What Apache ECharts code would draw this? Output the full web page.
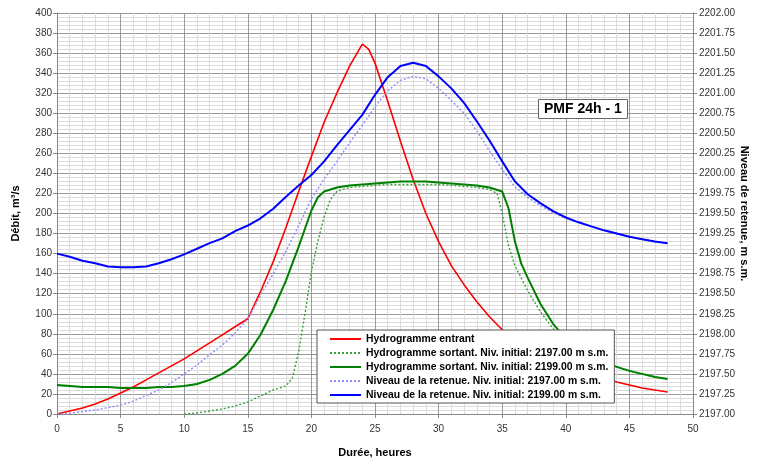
<!DOCTYPE html>
<html>
<head>
<meta charset="utf-8">
<script src="https://cdn.jsdelivr.net/npm/echarts@6/dist/echarts.min.js"></script>
<style>
  html, body { margin: 0; padding: 0; background: #fff; }
  #chart { width: 759px; height: 463px; }
</style>
</head>
<body>
<div id="chart"></div>
<script>
// Durée (h) / débit (m3/s)
const hydroEntrant = [[0,0],[1,3],[2,6],[3,10],[4,15],[5,21],[6,27],[7,34],[8,41],[9,48],[10,55],[11,63],[12,71],[13,79],[14,87],[15,95],[16,122],[17,152],[18,186],[19,222],[20,257],[21,291],[22,320],[23,347],[24,369],[24.5,364],[25,350],[26,312],[27,272],[28,234],[29,200],[30,172],[31,148],[32,129],[33,112],[34,97],[35,84],[36,75],[37,67],[38,60],[39,54],[40,49],[41,44],[42,40],[43,36],[44,32],[45,29],[46,26],[47,24],[48,22]];

const sortant2197 = [[10,0],[11,1],[12,3],[13,5],[14,8],[15,12],[16,18],[17,24],[18,28],[18.5,36],[19,62],[19.5,100],[20,142],[20.5,172],[21,197],[21.5,214],[22,222],[23,226],[24,227],[25,228],[26,229],[27,229],[28,229],[29,229],[30,229],[31,228],[32,227],[33,226],[34,224],[34.6,220],[35,200],[35.5,168],[36,148],[37,123],[38,102],[39,85],[40,72],[41,63],[42,57],[43,51],[44,47],[45,43],[46,40],[47,37],[48,35]];

const sortant2199 = [[0,29],[1,28],[2,27],[3,27],[4,27],[5,26],[6,26],[7,26],[8,27],[9,27],[10,28],[11,30],[12,34],[13,40],[14,48],[15,60],[16,79],[17,104],[18,133],[19,167],[19.5,185],[20,203],[20.5,216],[21,222],[22,226],[23,228],[24,229],[25,230],[26,231],[27,232],[28,232],[29,232],[30,231],[31,230],[32,229],[33,228],[34,226],[35,222],[35.5,205],[36,172],[36.5,150],[37,136],[38,110],[39,90],[40,75],[41,65],[42,58],[43,52],[44,47],[45,43],[46,40],[47,37],[48,35]];

// niveau de retenue (m s.m.), axe de droite
const niveau2197 = [[0,2197.00],[1,2197.01],[2,2197.03],[3,2197.05],[4,2197.08],[5,2197.11],[6,2197.16],[7,2197.23],[8,2197.30],[9,2197.39],[10,2197.50],[11,2197.61],[12,2197.74],[13,2197.86],[14,2198.01],[15,2198.19],[16,2198.48],[17,2198.75],[18,2199.03],[19,2199.35],[20,2199.68],[21,2199.93],[22,2200.15],[23,2200.38],[24,2200.60],[25,2200.83],[26,2201.03],[27,2201.16],[28,2201.21],[29,2201.18],[30,2201.06],[31,2200.91],[32,2200.75],[33,2200.53],[34,2200.28],[35,2200.05],[36,2199.83],[37,2199.70],[38,2199.60],[39,2199.51],[40,2199.44],[41,2199.39],[42,2199.34],[43,2199.29],[44,2199.25],[45,2199.21],[46,2199.18],[47,2199.15],[48,2199.13]];

const niveau2199 = [[0,2199.00],[1,2198.96],[2,2198.91],[3,2198.88],[4,2198.84],[5,2198.83],[6,2198.83],[7,2198.84],[8,2198.88],[9,2198.93],[10,2198.99],[11,2199.06],[12,2199.13],[13,2199.19],[14,2199.28],[15,2199.35],[16,2199.44],[17,2199.56],[18,2199.71],[19,2199.85],[20,2199.98],[21,2200.15],[22,2200.35],[23,2200.54],[24,2200.73],[25,2200.98],[26,2201.20],[27,2201.34],[28,2201.38],[29,2201.34],[30,2201.21],[31,2201.06],[32,2200.88],[33,2200.65],[34,2200.41],[35,2200.15],[36,2199.90],[37,2199.74],[38,2199.63],[39,2199.53],[40,2199.45],[41,2199.39],[42,2199.34],[43,2199.29],[44,2199.25],[45,2199.21],[46,2199.18],[47,2199.15],[48,2199.13]];

const seriesNames = [
    'Hydrogramme entrant',
    'Hydrogramme sortant. Niv. initial: 2197.00 m s.m.',
    'Hydrogramme sortant. Niv. initial: 2199.00 m s.m.',
    'Niveau de la retenue. Niv. initial: 2197.00 m s.m.',
    'Niveau de la retenue. Niv. initial: 2199.00 m s.m.'
];

const font = 'Liberation Sans, Arial, sans-serif';
const chart = echarts.init(document.getElementById('chart'));

function line(name, data, color, width, type, yIndex) {
    return {
        name: name,
        type: 'line',
        data: data,
        yAxisIndex: yIndex,
        symbol: 'none',
        silent: true,
        lineStyle: { color: color, width: width, type: type },
        itemStyle: { color: color }
    };
}

chart.setOption({
    animation: false,
    textStyle: { fontFamily: font },
    grid: { left: 57, right: 66, top: 13, bottom: 49, outerBoundsMode: 'none' },
    title: {
        text: 'PMF 24h - 1',
        left: 538, top: 99,
        padding: [3, 6, 3, 6],
        backgroundColor: '#fff',
        borderColor: '#666',
        borderWidth: 1,
        textStyle: { fontSize: 14, fontWeight: 'bold', color: '#000', fontFamily: font }
    },
    legend: {
        orient: 'vertical',
        left: 317, top: 330,
        padding: [4, 6, 3, 12],
        itemGap: 4,
        itemWidth: 31,
        itemHeight: 10,
        itemStyle: { opacity: 0 },
        backgroundColor: '#fff',
        borderColor: '#555',
        borderWidth: 1,
        data: seriesNames,
        textStyle: { fontSize: 10.4, fontWeight: 'bold', color: '#000', fontFamily: font }
    },
    xAxis: {
        type: 'value',
        min: 0, max: 50, interval: 5,
        name: 'Durée, heures',
        nameLocation: 'middle',
        nameGap: 33,
        nameTextStyle: { fontSize: 11, fontWeight: 'bold', color: '#000' },
        axisLine: { lineStyle: { color: '#888' } },
        axisTick: { length: 4, lineStyle: { color: '#888' } },
        axisLabel: { fontSize: 10, color: '#333', margin: 10 },
        splitLine: { lineStyle: { color: '#9a9a9a', width: 1 } },
        minorTick: { show: false, splitNumber: 5 },
        minorSplitLine: { show: true, lineStyle: { color: '#dcdcdc', width: 1 } }
    },
    yAxis: [{
        type: 'value',
        min: 0, max: 400, interval: 20,
        name: 'Débit, m³/s',
        nameLocation: 'middle',
        nameGap: 36,
        nameRotate: 90,
        nameTextStyle: { fontSize: 11, fontWeight: 'bold', color: '#000' },
        axisLine: { show: true, lineStyle: { color: '#888' } },
        axisTick: { show: true, length: 4, lineStyle: { color: '#888' } },
        axisLabel: { fontSize: 10, color: '#333', margin: 5 },
        splitLine: { lineStyle: { color: '#9a9a9a', width: 1 } },
        minorTick: { show: false, splitNumber: 5 },
        minorSplitLine: { show: true, lineStyle: { color: '#dcdcdc', width: 1 } }
    }, {
        type: 'value',
        position: 'right',
        min: 2197, max: 2202, interval: 0.25,
        name: 'Niveau de retenue, m s.m.',
        nameLocation: 'middle',
        nameGap: 46,
        nameMoveOverlap: false,
        nameRotate: -90,
        nameTextStyle: { fontSize: 11, fontWeight: 'bold', color: '#000' },
        axisLine: { show: true, lineStyle: { color: '#888' } },
        axisTick: { show: true, length: 4, lineStyle: { color: '#888' } },
        axisLabel: { fontSize: 10, color: '#333', margin: 6, formatter: v => v.toFixed(2) },
        splitLine: { show: false }
    }],
    series: [
        line(seriesNames[0], hydroEntrant, '#ff0000', 1.6, 'solid', 0),
        line(seriesNames[1], sortant2197, '#3aa03a', 1.4, [2, 2], 0),
        line(seriesNames[2], sortant2199, '#008000', 2, 'solid', 0),
        line(seriesNames[3], niveau2197, '#8c8cff', 1.4, [2, 2], 1),
        line(seriesNames[4], niveau2199, '#0000ff', 2, 'solid', 1)
    ]
});

window.addEventListener('resize', () => chart.resize());
</script>
</body>
</html>
